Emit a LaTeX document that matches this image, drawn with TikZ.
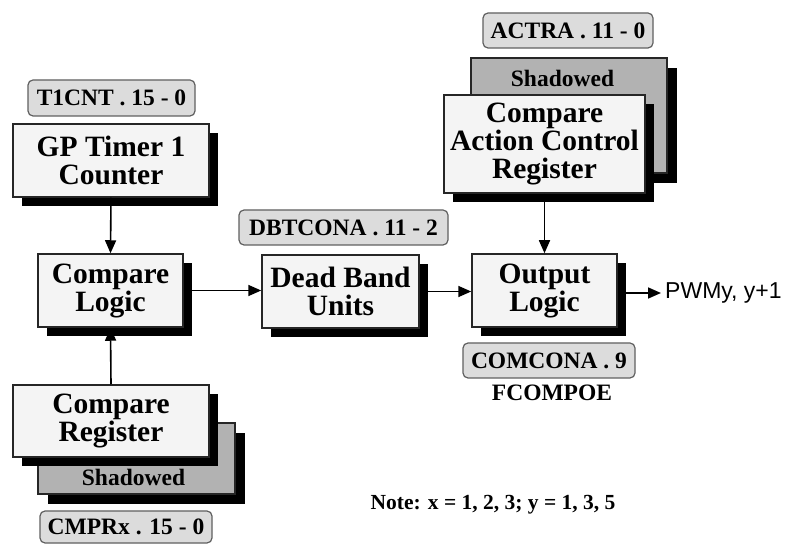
\documentclass[tikz,border=0pt]{standalone}
\usepackage{fontspec}
\setmainfont{Liberation Serif}
\setsansfont{Liberation Sans}
\usetikzlibrary{arrows.meta,shadows}

\definecolor{boxfill}{HTML}{F4F4F4}
\definecolor{regfill}{HTML}{DCDCDC}
\definecolor{regline}{HTML}{606060}
\definecolor{shadefill}{HTML}{B2B2B2}

\newcommand{\blockfont}{\fontsize{29.5}{28}\selectfont\bfseries}
\newcommand{\regfont}{\fontsize{23.5}{23.5}\selectfont\bfseries}

\begin{document}
\begin{tikzpicture}[
    x=1pt, y=-1pt,
    every node/.style={inner sep=0pt, align=center},
    block/.style={draw=black!85, line width=1.5pt, fill=boxfill, font=\blockfont,
      drop shadow={shadow xshift=9pt, shadow yshift=-9pt, fill=black, opacity=1}},
    shadebox/.style={draw=black!85, line width=1.5pt, fill=shadefill,
      drop shadow={shadow xshift=10pt, shadow yshift=-10pt, fill=black, opacity=1}},
    regname/.style={draw=regline, line width=1.2pt, rounded corners=5pt, fill=regfill, font=\regfont},
    link/.style={-{Triangle[length=13pt, width=11pt]}, line width=1.6pt},
]
  \useasboundingbox (0,0) rectangle (788,545);

  % left column
  \node [regname, minimum width=167, minimum height=36]  (t1cnt)   at (111.5,98)  {T1CNT . 15 - 0};
  \node [block,   minimum width=196, minimum height=73]  (counter) at (111,160.5) {GP Timer 1\\Counter};
  \node [block,   minimum width=145, minimum height=73]  (logic)   at (110.5,290.5) {Compare\\Logic};
  \node [shadebox, minimum width=197, minimum height=71] (cmprsh)  at (136.5,458.5) {};
  \node [font=\regfont]                                  (cmprtag) at (133.5,477) {Shadowed};
  \node [block,   minimum width=196, minimum height=72]  (cmpr)    at (111,421)   {Compare\\Register};
  \node [regname, minimum width=172, minimum height=32]  (cmprx)   at (126,527)   {CMPRx . 15 - 0};

  % middle
  \node [regname, minimum width=209, minimum height=35]  (dbtcona) at (343.5,227.5) {DBTCONA . 11 - 2};
  \node [block,   minimum width=157, minimum height=73]  (deadband) at (340.5,291.5) {Dead Band\\Units};

  % right column
  \node [regname, minimum width=170, minimum height=35]  (actra)   at (568,30.5)  {ACTRA . 11 - 0};
  \node [shadebox, minimum width=196, minimum height=115] (actrash) at (569,115.5) {};
  \node [font=\regfont]                                  (actratag) at (562.5,78) {Shadowed};
  \node [block,   minimum width=201, minimum height=98]  (action)  at (544.5,144) {Compare\\Action Control\\Register};
  \node [block,   minimum width=145, minimum height=73]  (output)  at (544.5,290.5) {Output\\Logic};
  \node [regname, minimum width=172, minimum height=35]  (comcona) at (549,360.5) {COMCONA . 9};
  \node [font=\regfont]                                  (fcompoe) at (552,393)   {FCOMPOE};
  \node [font=\sffamily\fontsize{23}{23}\selectfont, anchor=west, inner xsep=4pt] (pwm) at (661,293) {PWMy, y+1};

  \node [font=\fontsize{21.5}{21.5}\selectfont\bfseries] (note)   at (493,505)   {Note: x = 1, 2, 3; y = 1, 3, 5};

  % connectors
  \draw [link] (counter.south)   -- (logic.north);
  \draw [link] (cmpr.north)      -- (logic.south);
  \draw [link] (logic.east)      -- (deadband.west |- logic.east);
  \draw [link] (deadband.east)   -- (output.west |- deadband.east);
  \draw [link] (action.south)    -- (output.north);
  \draw [link] (output.east |- pwm.west) -- (pwm.west);
\end{tikzpicture}
\end{document}
